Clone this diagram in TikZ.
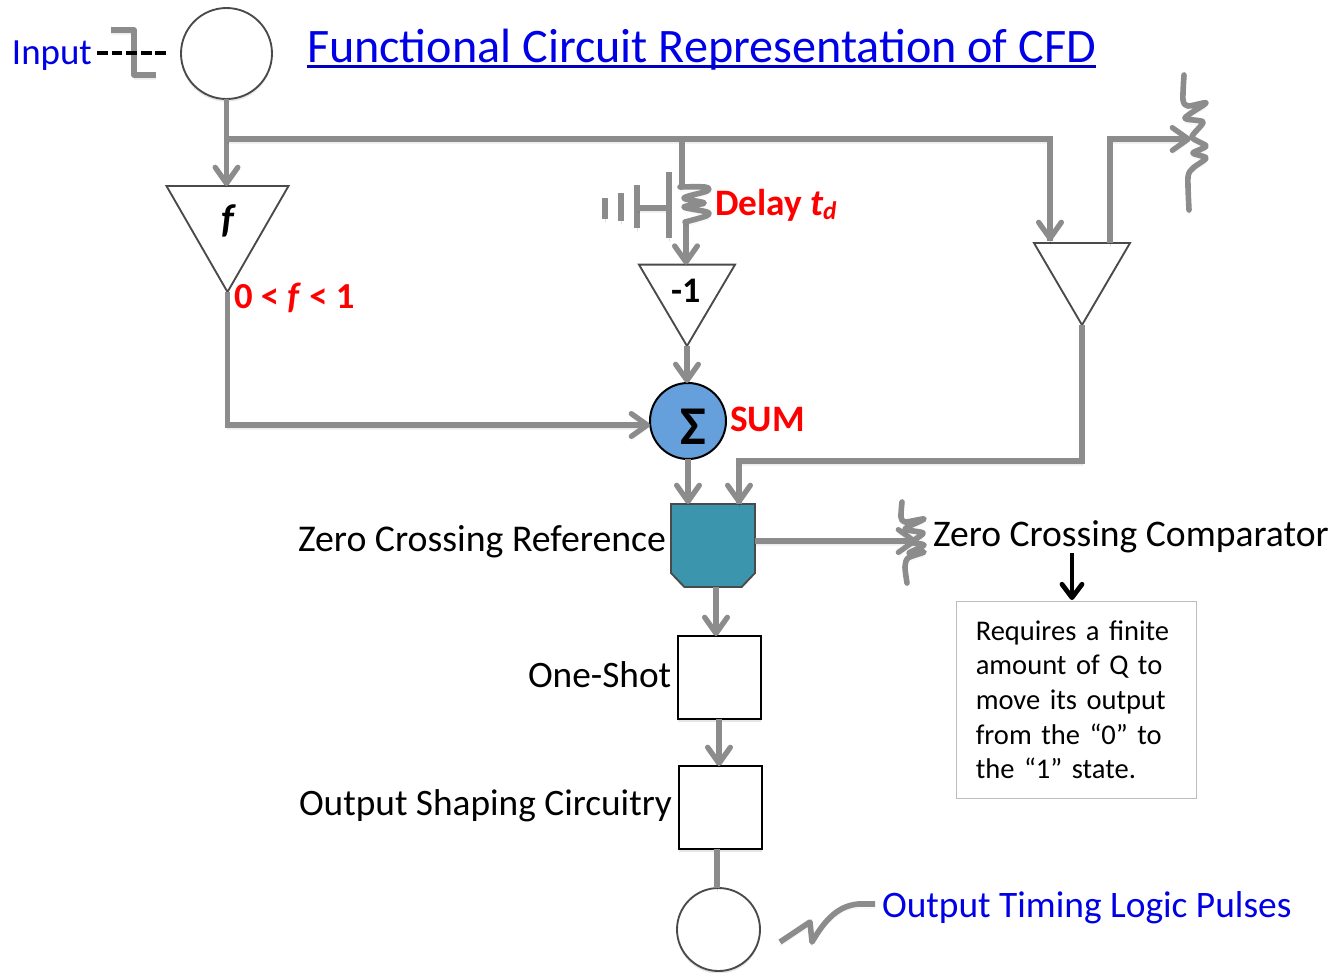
\documentclass[tikz,border=0pt]{standalone}
\usepackage{fontspec}
\setmainfont{Carlito}
\newfontfamily\notefont[WordSpace=0.75]{Carlito}
\usetikzlibrary{arrows.meta,shapes.geometric,shadows}
\definecolor{wire}{HTML}{8C8C8C}
\definecolor{edgeg}{HTML}{4A4A4A}
\definecolor{teal2}{HTML}{3B95AC}
\definecolor{sumblue}{HTML}{659FDC}
\definecolor{boxg}{HTML}{BDBDBD}
\definecolor{tblue}{HTML}{0000E6}
\newcommand{\fs}[1]{\fontsize{#1}{#1}\selectfont}
\tikzset{
  x=0.75pt,y=-0.75pt,
  softshadow/.style={preaction={draw=black,draw opacity=.07,transform canvas={yshift=-2.2pt}},
                     preaction={draw=black,draw opacity=.05,transform canvas={yshift=-3.2pt}}},
  wireline/.style={draw=wire,line width=4pt,softshadow,line join=miter},
  arrowline/.style={wireline,-{Straight Barb[length=12pt,width=17pt,line cap=round,round]}},
  thinwire/.style={draw=wire,line width=3.8pt,softshadow},
  coil/.style={draw=wire,line width=4.2pt,softshadow,line cap=round,line join=round},
  circ/.style={circle,draw=edgeg,line width=1.4pt,fill=white,inner sep=0pt,outer sep=0pt,
     drop shadow={shadow xshift=0pt,shadow yshift=-2pt,opacity=.2}},
  tri/.style={isosceles triangle,isosceles triangle stretches,shape border rotate=270,
     draw=edgeg,line width=1.4pt,fill=white,inner sep=0pt,outer sep=0pt},
  sq/.style={rectangle,draw=black,line width=1.5pt,fill=white,inner sep=0pt,outer sep=0pt,minimum size=62.25pt,
     drop shadow={shadow xshift=0pt,shadow yshift=-2pt,opacity=.2}},
  lbl/.style={anchor=base west,inner sep=0pt,outer sep=0pt},
  redb/.style={lbl,text=red},
}
\begin{document}
\begin{tikzpicture}
\useasboundingbox (0,0) rectangle (1335,972);
% --- junctions and free ends
\coordinate (j1) at (227,139);
\coordinate (j2) at (682,139);
\coordinate (j3) at (1050,139);
\coordinate (t3in) at (1050,241);
\coordinate (t3out) at (1110,243);
\coordinate (cmpTop) at (1110,139);
\coordinate (cmpTip) at (1191,139);
\coordinate (f1) at (227.5,425);
\coordinate (f2) at (650,425);
\coordinate (r1) at (1082,461);
\coordinate (r2) at (739,461);
\coordinate (tealIn2) at (739,504);
\coordinate (coilOut) at (686,222);
\coordinate (coilIn) at (682,187);
\coordinate (cmp2Tip) at (917,541);
% --- step at the input
\draw[wireline,line join=round] (111,30) -- (134,30) -- (134,75) -- (156,75);
% --- nodes
\node[circ,minimum size=68.25pt] (in) at (226.5,53.5) {};
\node[tri,minimum width=91.5pt,minimum height=79.5pt,anchor=apex] (t1) at (227.5,292) {};
\node[tri,minimum width=72pt,minimum height=61pt,anchor=apex] (t2) at (687,346) {};
\node[tri,minimum width=72pt,minimum height=61.5pt,anchor=apex] (t3) at (1082,325) {};
\node[circle,draw=black,line width=1.5pt,fill=sumblue,minimum size=57pt,inner sep=0pt,outer sep=0pt] (sum) at (688,421) {};
\node[rectangle,minimum width=63pt,minimum height=62.25pt,inner sep=0pt,outer sep=0pt] (zc) at (713,545.5) {};
\draw[draw=edgeg,line width=1.4pt,fill=teal2] (zc.north west) -- (zc.north east) -- ([yshift=10.5pt]zc.south east)
   -- ([xshift=-10pt]zc.south east) -- ([xshift=10pt]zc.south west) -- ([yshift=10.5pt]zc.south west) -- cycle;
\node[sq] (os) at (719.5,677.5) {};
\node[sq] (sh) at (720.5,807.5) {};
\node[circ,minimum size=62.25pt] (out) at (718.5,929.5) {};
% --- connectors
\draw[arrowline] (in.south) -- (t1.left corner -| in.south);
\draw[wireline] (j1) -- (j3) -- (t3in);
\draw[arrowline] (j3) -- (t3in);
\draw[thinwire] (j2) -- (coilIn);
\draw[arrowline] (coilOut) -- (t2.left corner -| coilOut);
\draw[arrowline] (t2.apex) -- (sum.north -| t2.apex);
\draw[arrowline] (t3out) -- (cmpTop) -- (cmpTip);
\draw[arrowline] (t1.apex) -- (f1) -- (f2);
\draw[wireline] (t3.apex) -- (r1) -- (r2) -- (tealIn2);
\draw[arrowline] (r2) -- (tealIn2);
\draw[arrowline] (sum.south) -- (sum.south |- tealIn2);
\draw[arrowline] (zc.east |- cmp2Tip) -- (cmp2Tip);
\draw[arrowline] (716,587) -- (os.north -| 716,0);
\draw[arrowline] (719,719) -- (sh.north -| 719,0);
\draw[draw=wire,line width=4pt,softshadow] (sh.south -| 717,0) -- (out.north -| 717,0);
% --- delay symbol
\draw[coil] plot[smooth,tension=.55] coordinates {(680,187) (705,187) (707,191) (684,198) (704,203) (684,207) (707,212) (706,216) (685,222)};
\draw[thinwire] (605,198) -- (605,219);
\draw[thinwire] (621,193) -- (621,221);
\draw[thinwire] (637,185) -- (637,228);
\draw[thinwire] (637,208) -- (669,208);
\draw[thinwire] (669,172) -- (669,238);
% --- variable resistors
\draw[coil] plot[smooth,tension=.45] coordinates {(1184,75) (1183,100) (1188,106) (1206,103) (1185,118) (1203,122) (1192,137) (1206,146) (1193,153) (1206,158) (1193,168) (1188,177) (1189,210)};
\draw[coil] plot[smooth,tension=.45] coordinates {(902,502) (901,517) (905,522) (924,519) (905,529) (923,533) (912,542) (924,545) (909,553) (924,552) (908,558) (905,567) (907,583)};
% --- output zigzag
\draw[draw=wire,line width=4.2pt,softshadow,line join=round] (780,942) -- (810,922) -- (812,942)
   .. controls (822,925) and (835,906) .. (858,904) -- (875,904);
% --- input dash line
\coordinate (dashA) at (97,53);
\coordinate (dashB) at (167,53);
\draw[black,line width=2.6pt,dash pattern=on 8.2pt off 2.7pt] (dashA) -- (dashB);
% --- black arrow
\coordinate (ba) at (1072,553);
\coordinate (bb) at (1072,600);
\draw[black,line width=3.6pt,-{Straight Barb[length=10pt,width=15pt,round]}] (ba) -- (bb);
% --- text box
\node[rectangle,draw=boxg,line width=1.2pt,fill=white,anchor=north west,text width=151pt,
      inner xsep=14.6pt,inner ysep=0pt,minimum height=147.75pt,align=left,
      font=\notefont\fontsize{21.4}{26}\selectfont] (note) at (955.5,600.5)
  {Requires a finite\\ amount of Q to\\ move its output\\ from the “0” to\\ the “1” state.};
% --- labels
\node[lbl,text=tblue,font=\fs{27.7}] (inputl) at (12,64) {Input};
\node[lbl,text=tblue,font=\fs{36.1}] (title) at (307,62) {Functional Circuit Representation of CFD};
\draw[draw=tblue!85!black,line width=2pt] ([yshift=-3.2pt]title.base west) -- ([yshift=-3.2pt]title.base east);
\node[lbl,font=\bfseries\itshape\fs{30}] (fl) at (221,232) {f};
\node[redb,font=\bfseries\fs{27.5}] (rng) at (234,308) {0 < \textit{f} < 1};
\node[redb,font=\bfseries\fs{28}] (dl) at (715,215) {Delay \textit{t}\kern-.5pt\raisebox{-3.5pt}{\fs{19}\textit{d}}};
\node[lbl,font=\bfseries\fs{27}] (m1) at (671,302) {-1};
\node[lbl,font=\bfseries\fs{41}] (sg) at (680,444) {Σ};
\node[redb,font=\bfseries\fs{28}] (suml) at (730,431) {SUM};
\node[lbl,font=\fs{28.35}] (zcr) at (298,551) {Zero Crossing Reference};
\node[lbl,font=\fs{28.2}] (zcc) at (933,546) {Zero Crossing Comparator};
\node[lbl,font=\fs{28}] (osl) at (528,687) {One-Shot};
\node[lbl,font=\fs{28}] (shl) at (299,815) {Output Shaping Circuitry};
\node[lbl,text=tblue,font=\fs{28.05}] (outl) at (882,917) {Output Timing Logic Pulses};
\end{tikzpicture}
\end{document}
